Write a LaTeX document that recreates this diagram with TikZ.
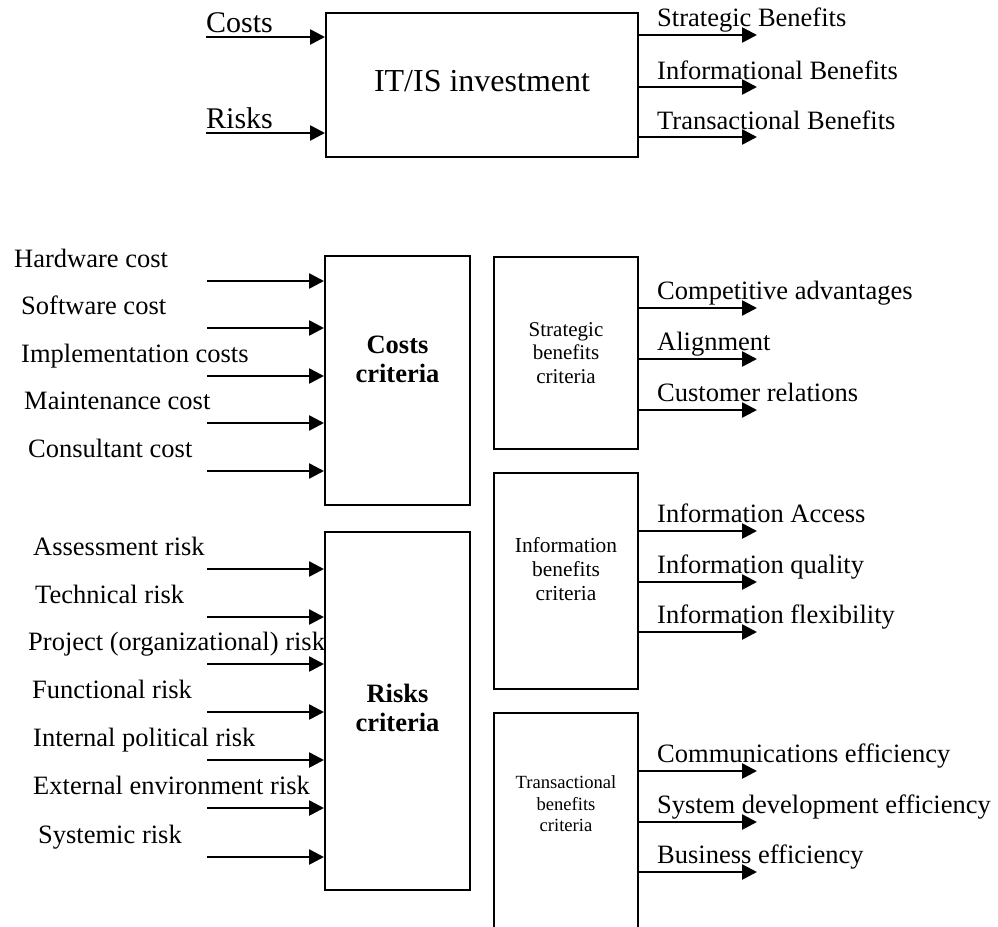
\documentclass[tikz,border=0pt]{standalone}
\usepackage{fontspec}
\setmainfont{Liberation Serif}
\usetikzlibrary{arrows.meta}
\tikzset{
  crit/.style={draw,line width=2pt,inner sep=0pt,minimum width=145pt},
  inarrow/.style={line width=2.6pt,-{Triangle[length=15pt,width=15pt]}},
  item/.style={anchor=base west,inner sep=0pt,font=\fontsize{26.5}{30}\selectfont},
  crittxt/.style={inner sep=0pt,align=center},
}
\begin{document}
\begin{tikzpicture}[x=1pt,y=-1pt]
\useasboundingbox (0,0) rectangle (998,926);
\clip (0,0) rectangle (998,926);
\node[crit,minimum width=312pt,minimum height=144pt] (inv) at (482,85) {};
\node[anchor=base,inner sep=0pt,font=\fontsize{32}{36}\selectfont] (invtxt) at (482,91) {IT/IS investment};
\foreach \y/\t [count=\i] in {37/Costs,133/Risks}{
  \node[item,font=\fontsize{30}{34}\selectfont] (top\i) at (206,\y-5) {\t};
  \coordinate (topin\i) at (206,\y);
  \draw[inarrow] (topin\i) -- (topin\i -| inv.west);
}
\foreach \y/\t [count=\i] in {35/Strategic Benefits,87/Informational Benefits,137/Transactional Benefits}{
  \coordinate (topout\i) at (757,\y);
  \draw[inarrow] (topout\i -| inv.east) -- (topout\i);
  \node[item] (ben\i) at (657,\y-8) {\t};
}
\node[crit,minimum height=249pt] (costs) at (397.5,380.5) {};
\node[crittxt,font=\bfseries\fontsize{26.5}{29}\selectfont] (coststxt) at (397.5,359.5) {Costs\\criteria};
\node[crit,minimum height=358pt] (risks) at (397.5,711) {};
\node[crittxt,font=\bfseries\fontsize{26.5}{29}\selectfont] (riskstxt) at (397.5,707.5) {Risks\\criteria};
\node[crit,minimum width=144pt,minimum height=192pt] (strat) at (566,353) {};
\node[crittxt,font=\fontsize{21}{23.5}\selectfont] (strattxt) at (566,353) {Strategic\\benefits\\criteria};
\node[crit,minimum width=144pt,minimum height=216pt] (info) at (566,581) {};
\node[crittxt,font=\fontsize{21.4}{24}\selectfont] (infotxt) at (566,569) {Information\\benefits\\criteria};
\node[crit,minimum width=144pt,minimum height=240pt] (trans) at (566,833) {};
\node[crittxt,font=\fontsize{18.6}{21.5}\selectfont] (transtxt) at (566,804) {Transactional\\benefits\\criteria};
\foreach \y/\x/\t [count=\i] in {281/14/Hardware cost,328/21/Software cost,376/21/Implementation costs,423/24/Maintenance cost,471/28/Consultant cost}{
  \node[item] (cost\i) at (\x,\y-14) {\t};
  \coordinate (costin\i) at (207,\y);
  \draw[inarrow] (costin\i) -- (costin\i -| costs.west);
}
\foreach \y/\x/\t [count=\i] in {569/33/Assessment risk,617/35/Technical risk,664/28/Project (organizational) risk,712/32/Functional risk,760/33/Internal political risk,808/33/External environment risk,857/38/Systemic risk}{
  \node[item] (risk\i) at (\x,\y-14) {\t};
  \coordinate (riskin\i) at (207,\y);
  \draw[inarrow] (riskin\i) -- (riskin\i -| risks.west);
}
\foreach \grp/\ys/\ts in {strat/{308,359,410}/{Competitive advantages,Alignment,Customer relations},info/{531,582,632}/{Information Access,Information quality,Information flexibility},trans/{771,822,872}/{Communications efficiency,System development efficiency,Business efficiency}}{
  \foreach \y [count=\i] in \ys{
    \coordinate (\grp out\i) at (757,\y);
    \draw[inarrow] (\grp out\i -| \grp.east) -- (\grp out\i);
  }
  \foreach \t [count=\i] in \ts{
    \node[item] (\grp lbl\i) at ([yshift=9pt]\grp out\i -| 657,0) {\t};
  }
}
\end{tikzpicture}
\end{document}
